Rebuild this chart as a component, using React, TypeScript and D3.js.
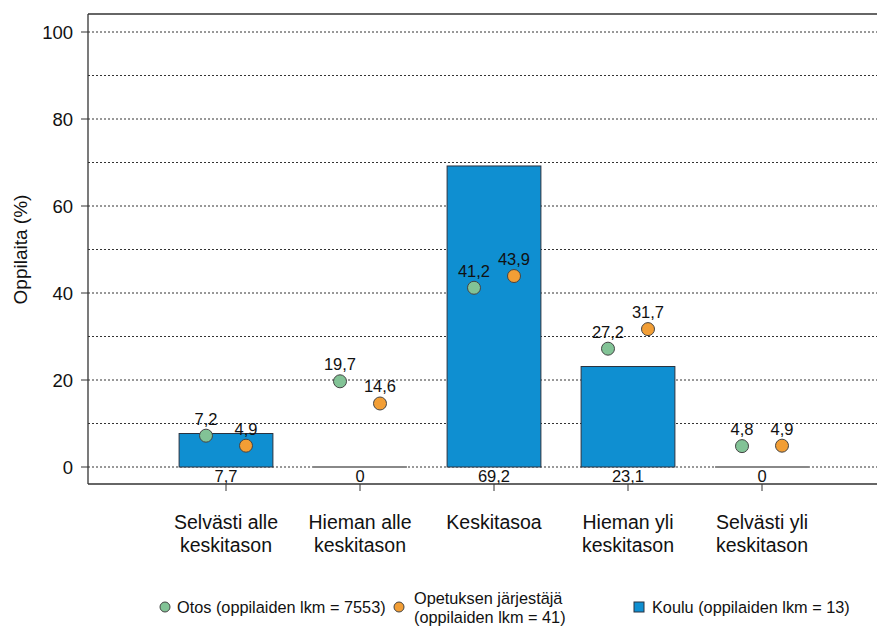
import React from "react";
import * as d3 from "d3";

const categories = [
  ["Selvästi alle", "keskitason"],
  ["Hieman alle", "keskitason"],
  ["Keskitasoa"],
  ["Hieman yli", "keskitason"],
  ["Selvästi yli", "keskitason"],
];
const koulu = [7.7, 0, 69.2, 23.1, 0];
const otos = [7.2, 19.7, 41.2, 27.2, 4.8];
const jarjestaja = [4.9, 14.6, 43.9, 31.7, 4.9];
const yTicks = [0, 20, 40, 60, 80, 100];
const gridValues = [0, 10, 20, 30, 40, 50, 60, 70, 80, 90, 100];

const BLUE = "#0f8fd1";
const GREEN = "#82c396";
const ORANGE = "#f29e35";
const FONT = "'Liberation Sans', Arial, sans-serif";

const fmt = (v: number) => (Number.isInteger(v) ? String(v) : v.toFixed(1).replace(".", ","));

const App: React.FC = () => {
  const width = 877;
  const height = 626;
  const plot = { left: 88, top: 14, right: 877, bottom: 484 };

  const ids = categories.map((_, i) => String(i));
  const x = d3.scaleBand().domain(ids).range([159, 829]).paddingInner(0.3).paddingOuter(0.15);
  const y = d3.scaleLinear().domain([0, 100]).range([467, 32]);
  const bw = x.bandwidth();
  const cx = (i: number) => (x(String(i)) || 0) + bw / 2;
  const off = 20;

  return (
    <svg
      width={width}
      height={height}
      style={{ position: "absolute", left: 0, top: 0, fontFamily: FONT }}
    >
      <rect width={width} height={height} fill="#fff" />

      {/* grid */}
      {gridValues.map((g) => (
        <line
          key={g}
          x1={plot.left}
          x2={plot.right}
          y1={y(g)}
          y2={y(g)}
          stroke="#333"
          strokeWidth={1}
          strokeDasharray="2,2"
        />
      ))}

      {/* bars */}
      {koulu.map((v, i) =>
        v > 0 ? (
          <rect
            key={i}
            x={x(String(i))}
            y={y(v)}
            width={bw}
            height={y(0) - y(v)}
            fill={BLUE}
            stroke="#2a3340"
            strokeWidth={1}
          />
        ) : (
          <line
            key={i}
            x1={x(String(i))}
            x2={(x(String(i)) || 0) + bw}
            y1={y(0)}
            y2={y(0)}
            stroke="#888"
            strokeWidth={2}
          />
        )
      )}
      {koulu.map((v, i) => (
        <text key={i} x={cx(i)} y={y(0) + 15} textAnchor="middle" fontSize={16.5} fill="#111">
          {fmt(v)}
        </text>
      ))}

      {/* points */}
      {otos.map((v, i) => (
        <g key={"o" + i}>
          <circle cx={cx(i) - off} cy={y(v)} r={6.5} fill={GREEN} stroke="#444" strokeWidth={1} />
          <text x={cx(i) - off} y={y(v) - 11} textAnchor="middle" fontSize={16.5} fill="#111">
            {fmt(v)}
          </text>
        </g>
      ))}
      {jarjestaja.map((v, i) => (
        <g key={"j" + i}>
          <circle cx={cx(i) + off} cy={y(v)} r={6.5} fill={ORANGE} stroke="#444" strokeWidth={1} />
          <text x={cx(i) + off} y={y(v) - 11} textAnchor="middle" fontSize={16.5} fill="#111">
            {fmt(v)}
          </text>
        </g>
      ))}

      {/* frame */}
      <line x1={plot.left} x2={plot.right} y1={plot.top} y2={plot.top} stroke="#333" strokeWidth={1.3} />
      <line x1={plot.left} x2={plot.left} y1={plot.top} y2={plot.bottom} stroke="#333" strokeWidth={1.3} />
      <line x1={plot.left} x2={plot.right} y1={plot.bottom} y2={plot.bottom} stroke="#333" strokeWidth={1.3} />

      {/* y axis */}
      {yTicks.map((t) => (
        <g key={t}>
          <line x1={plot.left - 7} x2={plot.left} y1={y(t)} y2={y(t)} stroke="#333" />
          <text x={plot.left - 15} y={y(t) + 7} textAnchor="end" fontSize={18.5} fill="#111">
            {t}
          </text>
        </g>
      ))}
      <text
        transform={`translate(27, ${(y(0) + y(100)) / 2}) rotate(-90)`}
        textAnchor="middle"
        fontSize={19}
        fill="#111"
      >
        Oppilaita (%)
      </text>

      {/* x axis */}
      {categories.map((lines, i) => (
        <g key={i}>
          <line x1={cx(i)} x2={cx(i)} y1={plot.bottom} y2={plot.bottom + 7} stroke="#333" />
          {lines.map((l, k) => (
            <text key={k} x={cx(i)} y={529 + k * 23} textAnchor="middle" fontSize={19.5} fill="#111">
              {l}
            </text>
          ))}
        </g>
      ))}

      {/* legend */}
      <g fontSize={16.3} fill="#111">
        <circle cx={165} cy={607} r={5} fill={GREEN} stroke="#444" />
        <text x={177} y={613}>Otos (oppilaiden lkm = 7553)</text>
        <circle cx={399} cy={607} r={5} fill={ORANGE} stroke="#444" />
        <text x={414} y={604}>Opetuksen järjestäjä</text>
        <text x={414} y={623}>(oppilaiden lkm = 41)</text>
        <rect x={634} y={602} width={10} height={10} fill={BLUE} stroke="#2a3340" />
        <text x={652} y={613}>Koulu (oppilaiden lkm = 13)</text>
      </g>
    </svg>
  );
};

export default App;
